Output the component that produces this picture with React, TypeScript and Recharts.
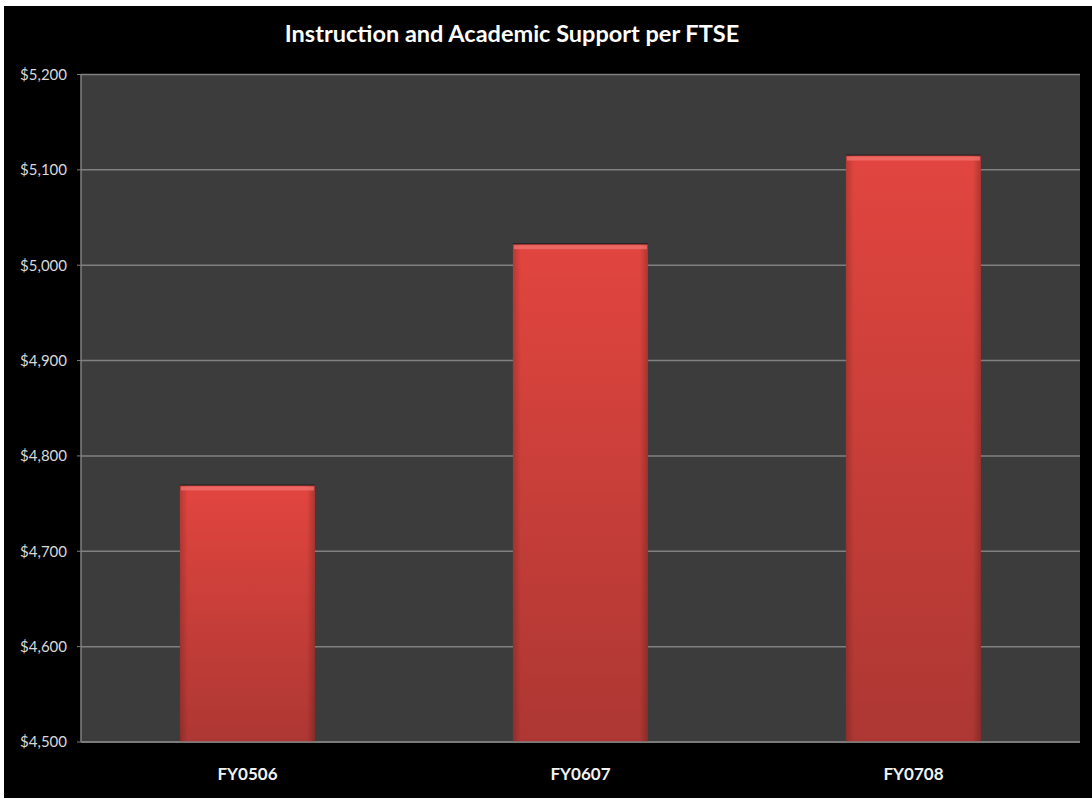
import { BarChart, Bar, XAxis, YAxis, CartesianGrid } from 'recharts';

const categories = ['FY0506', 'FY0607', 'FY0708'];
const spendPerFtse = [4769, 5022, 5115];
const yTicks = [4500, 4600, 4700, 4800, 4900, 5000, 5100, 5200];
const boundTicks = [0, 1, 2, 3];

const data = categories.map((fy, i) => ({ fy, value: spendPerFtse[i] }));

const FONT = 'Lato, "Open Sans", sans-serif';

// bevelled red column: vertical gradient, darker sides, light strip along the top
const BevelBar = (props: any) => {
  const { x, y, width, height } = props;
  if (!height || height <= 0) return null;
  return (
    <g>
      <rect x={x} y={y} width={width} height={height} fill="url(#barFill)" />
      <rect x={x} y={y} width={width} height={height} fill="url(#barSides)" />
      <rect x={x + 1} y={y + 1} width={width - 2} height={4} fill="#f07470" fillOpacity={0.75} />
      <line x1={x} x2={x + width} y1={y - 0.5} y2={y - 0.5} stroke="#1e1212" strokeOpacity={0.7} />
    </g>
  );
};

const fmtDollar = (v: number) => `$${v.toLocaleString('en-US')}`;

export default function App() {
  return (
    <div style={{ position: 'absolute', left: 0, top: 0, width: 1092, height: 799, background: '#fff' }}>
      <div style={{ position: 'absolute', left: 4, top: 6, width: 1088, height: 792, background: '#000' }}>
        <div
          style={{
            position: 'absolute',
            left: 0,
            width: 1016,
            top: 13,
            textAlign: 'center',
            color: '#fff',
            fontFamily: FONT,
            fontWeight: 700,
            fontSize: 23.5,
            lineHeight: '28px',
          }}
        >
          Instruction and Academic Support per FTSE
        </div>
        <BarChart
          width={1088}
          height={792}
          data={data}
          margin={{ top: 68.5, right: 12, bottom: 0, left: 7 }}
          barCategoryGap="29.7%"
        >
          <defs>
            <linearGradient id="barFill" x1="0" y1="0" x2="0" y2="1">
              <stop offset="0%" stopColor="#e2453f" />
              <stop offset="100%" stopColor="#ad3733" />
            </linearGradient>
            <linearGradient id="barSides" x1="0" y1="0" x2="1" y2="0">
              <stop offset="0%" stopColor="#000" stopOpacity={0.18} />
              <stop offset="6%" stopColor="#000" stopOpacity={0} />
              <stop offset="94%" stopColor="#000" stopOpacity={0} />
              <stop offset="100%" stopColor="#000" stopOpacity={0.22} />
            </linearGradient>
          </defs>
          <CartesianGrid
            vertical={false}
            stroke="#808080"
            strokeWidth={1.5}
            fill="#3c3c3c"
            fillOpacity={1}
            xAxisId="cat"
          />
          <XAxis
            xAxisId="bounds"
            type="number"
            domain={[0, 3]}
            ticks={boundTicks}
            height={0}
            axisLine={false}
            tickLine={{ stroke: '#808080' }}
            tickSize={6}
            tick={() => <g />}
            allowDataOverflow
          />
          <XAxis
            xAxisId="cat"
            dataKey="fy"
            height={56}
            axisLine={{ stroke: '#808080', strokeWidth: 1.5 }}
            tickLine={false}
            tick={{ fill: '#f2f2f2', fontSize: 17, fontWeight: 700, fontFamily: FONT }}
            dy={18}
          />
          <YAxis
            width={70}
            domain={[4500, 5200]}
            ticks={yTicks}
            allowDataOverflow
            tickFormatter={fmtDollar}
            axisLine={{ stroke: '#808080', strokeWidth: 1.5 }}
            tickLine={{ stroke: '#808080' }}
            tickSize={4}
            tickMargin={10}
            tick={{ fill: '#d9d9d9', fontSize: 15, fontFamily: FONT }}
          />
          <Bar dataKey="value" xAxisId="cat" shape={BevelBar} isAnimationActive={false} />
        </BarChart>
      </div>
    </div>
  );
}
